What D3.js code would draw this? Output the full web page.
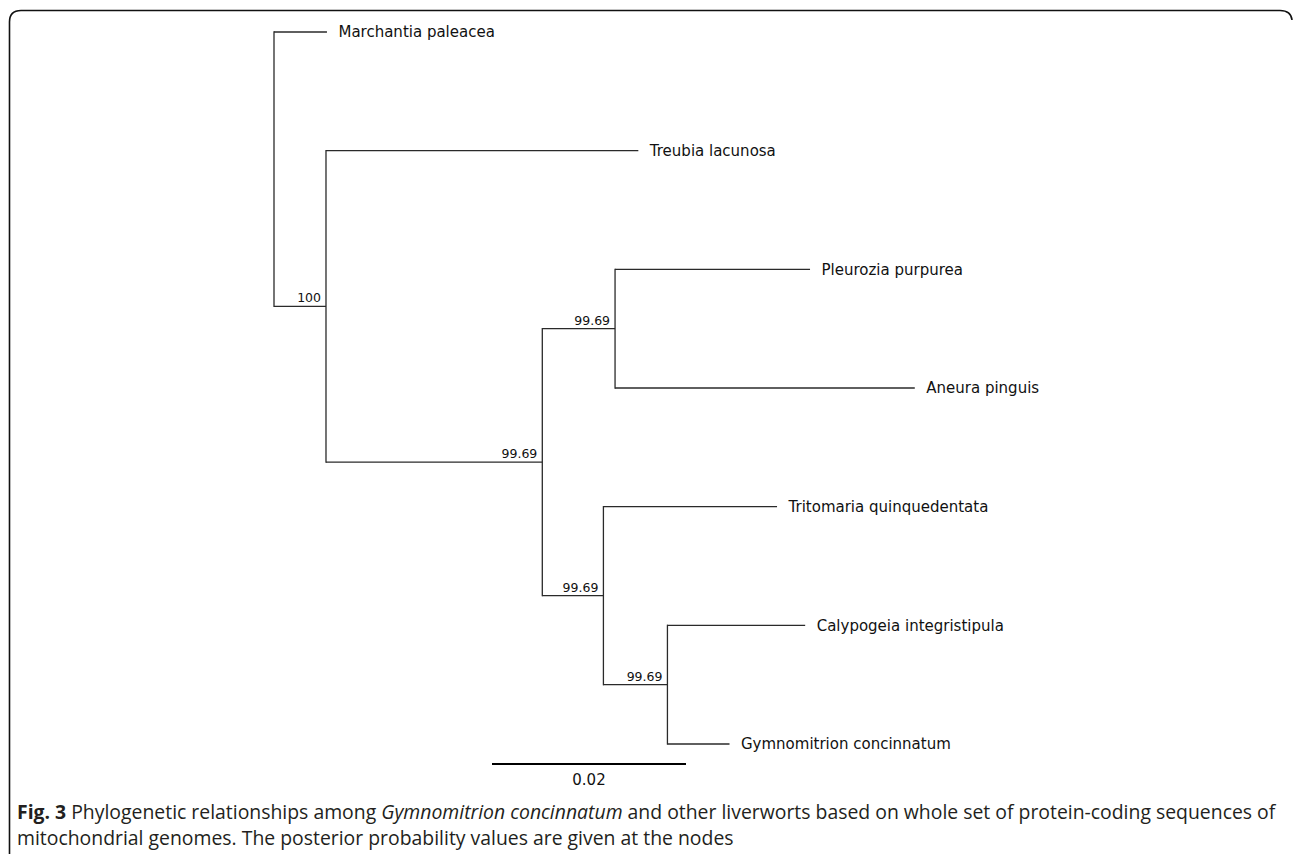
<!DOCTYPE html>
<html>
<head>
<meta charset="utf-8">
<script src="https://cdn.jsdelivr.net/npm/d3@7"></script>
<style>
  html, body { margin: 0; padding: 0; background: #fff; }
  svg { display: block; }
</style>
</head>
<body>
<svg id="chart" width="1293" height="854"></svg>
<script>
// ---- Data ----
const nodeIds = ["root", "n100", "nB", "nC", "nD", "nE",
  "Marchantia paleacea", "Treubia lacunosa", "Pleurozia purpurea", "Aneura pinguis",
  "Tritomaria quinquedentata", "Calypogeia integristipula", "Gymnomitrion concinnatum"];
const parentIds = [null, "root", "n100", "nB", "nB", "nD",
  "root", "n100", "nC", "nC", "nD", "nE", "nE"];
const branchLengths = [0, 0.00536, 0.0223, 0.0075, 0.0063, 0.0066,
  0.00546, 0.0322, 0.0201, 0.0309, 0.0179, 0.0142, 0.0064];
const supportValues = ["", "100", "99.69", "99.69", "99.69", "99.69",
  "", "", "", "", "", "", ""];
const leafOrder = ["Marchantia paleacea", "Treubia lacunosa", "Pleurozia purpurea", "Aneura pinguis",
  "Tritomaria quinquedentata", "Calypogeia integristipula", "Gymnomitrion concinnatum"];
const scaleBarValue = 0.02;
const scaleBarLabel = "0.02";
const captionLine1 = [
  {text: "Fig. 3", weight: "bold", style: "normal"},
  {text: " Phylogenetic relationships among ", weight: "normal", style: "normal"},
  {text: "Gymnomitrion concinnatum", weight: "normal", style: "italic"},
  {text: " and other liverworts based on whole set of protein-coding sequences of", weight: "normal", style: "normal"}
];
const captionLine2 = "mitochondrial genomes. The posterior probability values are given at the nodes";

// ---- Build hierarchy ----
const table = nodeIds.map((id, i) => ({id, parent: parentIds[i], len: branchLengths[i], support: supportValues[i]}));
const root = d3.stratify().id(d => d.id).parentId(d => d.parent)(table);
root.each(n => { n.dist = (n.parent ? n.parent.dist : 0) + n.data.len; });
const orderIdx = new Map(leafOrder.map((d, i) => [d, i]));
function minLeaf(n) { return n.children ? d3.min(n.children, minLeaf) : orderIdx.get(n.id); }
root.sort((a, b) => minLeaf(a) - minLeaf(b));

const svg = d3.select("#chart");
const x = d3.scaleLinear().domain([0, 0.04]).range([274, 662]);
const y = d3.scalePoint().domain(leafOrder).range([32, 744]);

root.eachAfter(n => {
  n.py = n.children ? (d3.min(n.children, c => c.py) + d3.max(n.children, c => c.py)) / 2 : y(n.id);
  n.px = x(n.dist);
});

const font = "'DejaVu Sans', sans-serif";
const g = svg.append("g");
const lineColor = "#2a2a2a";

g.selectAll("line.h").data(root.descendants().filter(n => n.parent)).join("line")
  .attr("x1", n => n.parent.px).attr("x2", n => n.px)
  .attr("y1", n => n.py).attr("y2", n => n.py)
  .attr("stroke", lineColor).attr("stroke-width", 1.3);
g.selectAll("line.v").data(root.descendants().filter(n => n.children)).join("line")
  .attr("x1", n => n.px).attr("x2", n => n.px)
  .attr("y1", n => d3.min(n.children, c => c.py) - 0.65).attr("y2", n => d3.max(n.children, c => c.py) + 0.65)
  .attr("stroke", lineColor).attr("stroke-width", 1.3);

g.selectAll("text.leaf").data(root.leaves()).join("text")
  .attr("x", n => n.px + 11.5).attr("y", n => n.py)
  .attr("dy", "0.35em")
  .attr("font-family", font).attr("font-size", 15).attr("fill", "#111")
  .text(n => n.id);

g.selectAll("text.sup").data(root.descendants().filter(n => n.data.support)).join("text")
  .attr("x", n => n.px - 5).attr("y", n => n.py - 4)
  .attr("text-anchor", "end")
  .attr("font-family", font).attr("font-size", 12.5).attr("fill", "#111")
  .text(n => n.data.support);

const sbX0 = 492;
const sbLen = x(scaleBarValue) - x(0);
g.append("line").attr("x1", sbX0).attr("x2", sbX0 + sbLen).attr("y1", 764).attr("y2", 764)
  .attr("stroke", "#000").attr("stroke-width", 2);
g.append("text").attr("x", sbX0 + sbLen / 2).attr("y", 785).attr("text-anchor", "middle")
  .attr("font-family", font).attr("font-size", 15).attr("fill", "#111").text(scaleBarLabel);

svg.append("path")
  .attr("d", "M9.5,854 L9.5,22 Q9.5,10.5 21,10.5 L1280,10.5 Q1291,10.5 1292,20")
  .attr("fill", "none").attr("stroke", "#111").attr("stroke-width", 1.6);

const capFont = "'Open Sans', sans-serif";
const cap1 = svg.append("text").attr("x", 17).attr("y", 819)
  .attr("font-family", capFont).attr("font-size", 17).attr("fill", "#231f20");
cap1.selectAll("tspan").data(captionLine1).join("tspan")
  .attr("font-weight", d => d.weight).attr("font-style", d => d.style)
  .style("white-space", "pre")
  .text(d => d.text);
const cap2 = svg.append("text").attr("x", 17).attr("y", 845)
  .attr("font-family", capFont).attr("font-size", 17).attr("fill", "#231f20")
  .text(captionLine2);
const w1 = cap1.node().getComputedTextLength();
const target = 1259;
const fs = 17 * target / w1;
cap1.attr("font-size", fs);
cap2.attr("font-size", fs);
</script>
</body>
</html>
